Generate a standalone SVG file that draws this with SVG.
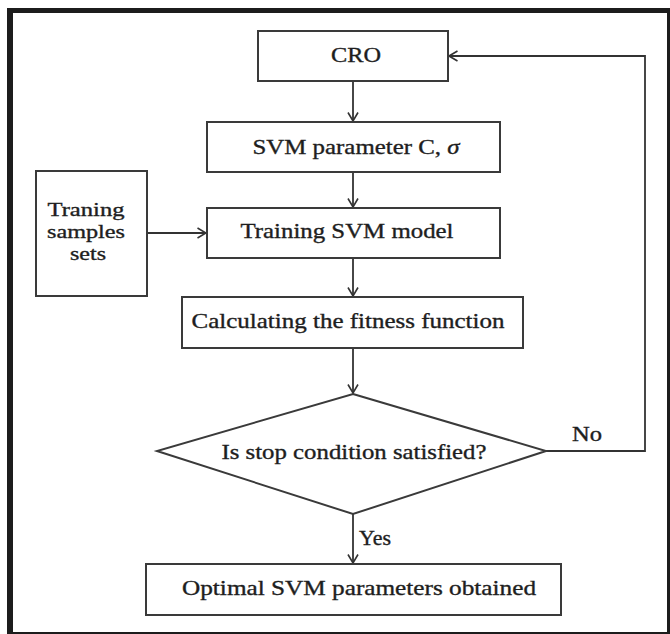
<svg xmlns="http://www.w3.org/2000/svg" width="670" height="634" viewBox="0 0 670 634">
<defs>
<style>
.box{fill:#fff;stroke:#3a3a3a;stroke-width:2}
.ln{fill:none;stroke:#333;stroke-width:1.8}
.t{font-family:"Liberation Serif","Times New Roman",serif;font-size:21px;fill:#1e1e1e;stroke:#1e1e1e;stroke-width:0.35;text-anchor:middle}
.s{font-size:19px}
</style>
<marker id="arr" viewBox="0 0 10 12" refX="9.5" refY="6" markerWidth="10" markerHeight="12" markerUnits="userSpaceOnUse" orient="auto">
<path d="M1,1 L9.5,6 L1,11" fill="none" stroke="#333" stroke-width="1.6"/>
</marker>
</defs>
<rect x="0" y="0" width="670" height="634" fill="#fff"/>
<rect x="7" y="8" width="663" height="626" fill="#1c1c1c"/>
<rect x="13" y="13" width="654" height="619" fill="#fff"/>
<g id="connectors">
<line class="ln" x1="353" y1="81" x2="353" y2="121" marker-end="url(#arr)"/>
<line class="ln" x1="353" y1="172" x2="353" y2="207" marker-end="url(#arr)"/>
<line class="ln" x1="147" y1="233" x2="206" y2="233" marker-end="url(#arr)"/>
<line class="ln" x1="353" y1="258" x2="353" y2="296" marker-end="url(#arr)"/>
<line class="ln" x1="353" y1="348" x2="353" y2="393" marker-end="url(#arr)"/>
<line class="ln" x1="353" y1="514" x2="353" y2="563" marker-end="url(#arr)"/>
<polyline class="ln" points="546,451 645,451 645,56 449,56" marker-end="url(#arr)"/>
<text class="t" x="587" y="441" textLength="30" lengthAdjust="spacingAndGlyphs">No</text>
<text class="t" x="375" y="545" textLength="32" lengthAdjust="spacingAndGlyphs">Yes</text>
</g>
<g id="cro">
<rect class="box" x="258" y="31" width="190" height="50"/>
<text class="t" x="356" y="62" textLength="50" lengthAdjust="spacingAndGlyphs">CRO</text>
</g>
<g id="svm-param">
<rect class="box" x="207" y="122" width="293" height="50"/>
<text class="t" x="356" y="154" textLength="207" lengthAdjust="spacingAndGlyphs">SVM parameter C, <tspan font-style="italic">σ</tspan></text>
</g>
<g id="training-samples">
<rect class="box" x="36" y="171" width="111" height="125"/>
<text class="t s" x="86" y="216" textLength="77" lengthAdjust="spacingAndGlyphs">Traning</text>
<text class="t s" x="86" y="238" textLength="78" lengthAdjust="spacingAndGlyphs">samples</text>
<text class="t s" x="88" y="260" textLength="36" lengthAdjust="spacingAndGlyphs">sets</text>
</g>
<g id="training-model">
<rect class="box" x="207" y="208" width="293" height="50"/>
<text class="t" x="347" y="238" textLength="213" lengthAdjust="spacingAndGlyphs">Training SVM model</text>
</g>
<g id="fitness">
<rect class="box" x="182" y="297" width="341" height="51"/>
<text class="t" x="348" y="328" textLength="313" lengthAdjust="spacingAndGlyphs">Calculating the fitness function</text>
</g>
<g id="decision">
<polygon class="box" points="353,394 546,451 353,514 157,451"/>
<text class="t" x="354" y="459" textLength="265" lengthAdjust="spacingAndGlyphs">Is stop condition satisfied?</text>
</g>
<g id="optimal">
<rect class="box" x="146" y="564" width="415" height="51"/>
<text class="t" x="359" y="595" textLength="354" lengthAdjust="spacingAndGlyphs">Optimal SVM parameters obtained</text>
</g>
</svg>
